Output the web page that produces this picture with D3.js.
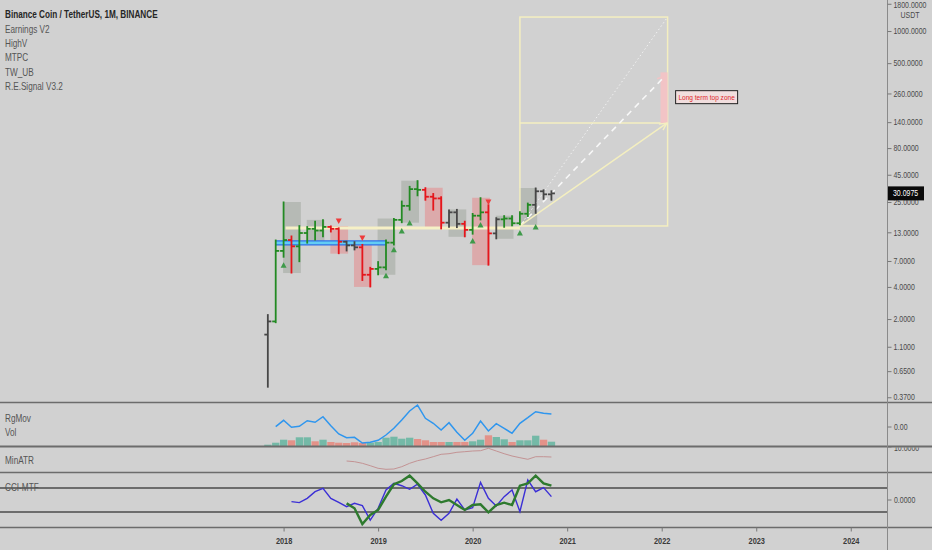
<!DOCTYPE html>
<html>
<head>
<meta charset="utf-8">
<script src="https://cdn.jsdelivr.net/npm/d3@7"></script>
<style>
  html, body { margin: 0; padding: 0; background: #d1d1d1; }
  svg { display: block; font-family: "Liberation Sans", Arial, sans-serif; }
</style>
</head>
<body>
<svg id="chart" width="932" height="550"></svg>
<script>
// monthly BNB/USDT bars, Nov 2017 .. Nov 2020
const months = [
  '2017-11', '2017-12',
  '2018-01', '2018-02', '2018-03', '2018-04', '2018-05', '2018-06',
  '2018-07', '2018-08', '2018-09', '2018-10', '2018-11', '2018-12',
  '2019-01', '2019-02', '2019-03', '2019-04', '2019-05', '2019-06',
  '2019-07', '2019-08', '2019-09', '2019-10', '2019-11', '2019-12',
  '2020-01', '2020-02', '2020-03', '2020-04', '2020-05', '2020-06',
  '2020-07', '2020-08', '2020-09', '2020-10', '2020-11'
];
const opens = [1.43, 1.9, 8.7, 11, 9.6, 12.8, 14, 13.5, 14.6, 14, 10.6, 9.8, 9.4, 5.2,
  5.9, 6.1, 10.4, 17, 23, 33, 32.5, 28, 27, 16, 20, 15.6,
  13.7, 18.6, 20, 12.7, 17.2, 17.5, 15.8, 19.4, 23.5, 31.5, 29.5];
const highs = [2.2, 11, 25, 12, 15, 14.7, 16.5, 17, 14.9, 14.3, 10.7, 10.6, 10, 6.1,
  6.9, 11, 17.5, 25.5, 35, 39.6, 34, 30, 28, 21, 21.3, 16.5,
  19.5, 27.4, 23.5, 17.8, 18.6, 18.6, 20.3, 24.4, 33.8, 32.5, 31.8];
const lows = [0.46, 1.85, 7.6, 5.4, 6.9, 10.3, 11, 11.8, 13.1, 8.2, 8.7, 8.9, 4.6, 4.0,
  5.2, 5.8, 9.9, 16, 21, 28.6, 26, 21, 14, 14.5, 14.4, 11.8,
  12.5, 17, 6.4, 11.3, 14.5, 15, 15.3, 18.3, 19.6, 26.5, 26];
const closes = [1.9, 8.7, 11, 9.6, 12.8, 14, 13.5, 14.6, 14, 10.6, 9.8, 9.4, 5.2, 5.9,
  6.1, 10.4, 17, 23, 33, 32.5, 28, 27, 16, 20, 15.6, 13.7,
  18.6, 20, 12.7, 17.2, 17.5, 15.8, 19.4, 23.5, 31.5, 29.5, 30.0975];
// indicator bar colouring: u = green, d = red, n = neutral
const barTone = 'nuuduuuuddnndduuuuuudddnnduudnuuuunnn'.split('');

// quarterly range boxes (first month index of each quarter) and their tone
const quarterStart = [2, 5, 8, 11, 14, 17, 20, 23, 26, 29, 32];
const quarterTone = ['u', 'u', 'd', 'd', 'u', 'u', 'd', 'u', 'd', 'u', 'u'];

// signal markers: month index and price level
const buyIdx = [2, 15, 16, 17, 18, 26, 27, 32, 34];
const buyLevel = [6.4, 5.1, 8.9, 13.4, 15.9, 10.8, 15.2, 12.8, 14.6];
const sellIdx = [9, 12, 28];
const sellLevel = [16.6, 11.5, 25];

// support levels
const creamLevel = 14.3;
const creamFrom = 2.25, creamTo = 32;
const blueBand = [10.8, 9.9];
const blueFrom = 1, blueTo = 15;

// long term projection box
const projFrom = 32, projTo = 50.75;
const projLow = 14.9, projMid = 137.4, projHigh = 1352;
const projDashTarget = 380;
const topZone = [137.4, 410];
const lastPrice = 30.0975;

// lower panes
const volumes = [1.3, 3.3, 6.3, 5.7, 8.7, 8.7, 4.7, 6.3, 4, 3.3, 3, 3.7, 3, 3.3, 4, 8.3, 9.3,
  7.3, 8.3, 7, 5.7, 4, 4, 4, 4, 4, 4.7, 6.3, 10.7, 9, 6.7, 4, 5.7, 5.7, 10.3, 6.3, 4.3];
const rgMov = [null, 19.3, 25.7, 18.7, 19.7, 25.3, 23.7, 29.3, 20.3, 12, 8.3, 8.7, 3, 3.7,
  5.7, 11, 17.7, 26, 35, 41, 27.7, 22.7, 16, 23.3, 13.7, 5.7, 12.7, 25, 15, 22.3, 17.7,
  12.7, 22.7, 28.3, 34.3, 32.7, 32];
const minAtrStart = 10;
const minAtr = [11, 10.3, 8.7, 6.3, 3.7, 2.7, 3, 5.3, 8.7, 11.3, 13, 15.3, 17.7, 18.3,
  19.7, 20.3, 21, 21.3, 23.7, 21, 18.3, 16, 14.3, 12.7, 15.3, 15.3, 15];
const cciFastStart = 3;
const cciFast = [-14, -22, 14, 69, 97, 14, -19, -56, -28, -47, -167, -69, 83, 139, 119, 89,
  131, 42, -111, -169, -111, 8, -83, -64, 147, 14, -50, 28, 83, -97, 167, 69, 103, 28];
const cciSlowStart = 10;
const cciSlow = [-28, -69, -200, -125, -83, 28, 131, 158, 203, 139, 69, 14, -19, 0, -42,
  -83, -42, -36, -103, -42, -22, -42, 119, 139, 203, 139, 119];

const priceTicks = [1800, 1000, 500, 260, 140, 80, 45, 25, 13, 7, 4, 2, 1.1, 0.65, 0.37];
const yearLabels = ['2018', '2019', '2020', '2021', '2022', '2023', '2024'];
const legendTitle = 'Binance Coin / TetherUS, 1M, BINANCE';
const legendItems = ['Earnings V2', 'HighV', 'MTPC', 'TW_UB', 'R.E.Signal V3.2'];

// ---------------------------------------------------------------
const W = 932, H = 550, AXIS_X = 887;
const MAIN = [0, 402], VOL = [402, 446], ATR = [446, 472], CCI = [472, 527];
const NARROW = 0.82;

const GREEN = '#238a23', RED = '#e5161c', NEUTRAL = '#474747';
const toneColor = t => t === 'u' ? GREEN : t === 'd' ? RED : NEUTRAL;

const svg = d3.select('#chart');

// squeeze text horizontally, the original uses a condensed UI font
function narrow(sel) {
  sel.each(function () {
    const t = d3.select(this);
    const tx = +t.attr('x') || 0, ty = +t.attr('y') || 0;
    t.attr('x', 0).attr('y', 0)
      .attr('transform', `translate(${tx},${ty}) scale(${NARROW},1)`);
  });
}

const x = d3.scaleLinear().domain([-34, 78.6]).range([0, AXIS_X]);
const y = d3.scaleLog().domain([1953, 0.334]).range(MAIN);
const yVol = d3.scaleLinear().domain([0, 44]).range([VOL[1], VOL[0]]);
const yAtr = d3.scaleLinear().domain([0, 26]).range([ATR[1], ATR[0]]);
const yCci = d3.scaleLinear().domain([-100, 100]).range([512, 488]);

const defs = svg.append('defs');
function clip(id, band) {
  defs.append('clipPath').attr('id', id)
    .append('rect').attr('x', 0).attr('y', band[0]).attr('width', AXIS_X).attr('height', band[1] - band[0]);
  return svg.append('g').attr('clip-path', `url(#${id})`);
}

// ---------------- main pane ----------------
const main = clip('clip-main', MAIN);

// quarter boxes
main.selectAll('rect.qbox')
  .data(quarterStart.map((s, k) => ({ s, tone: quarterTone[k] })))
  .join('rect')
  .attr('class', 'qbox')
  .attr('x', d => x(d.s) - 0.5)
  .attr('width', d => x(d.s + 2) - x(d.s) + 2)
  .attr('y', d => y(d3.max(highs.slice(d.s, d.s + 3))))
  .attr('height', d => y(d3.min(lows.slice(d.s, d.s + 3))) - y(d3.max(highs.slice(d.s, d.s + 3))))
  .attr('fill', d => d.tone === 'u' ? '#b6bab5' : '#dcaaab');

// projection box
const projG = main.append('g');
projG.append('rect')
  .attr('x', x(projFrom)).attr('y', y(projHigh))
  .attr('width', x(projTo) - x(projFrom)).attr('height', y(projLow) - y(projHigh))
  .attr('fill', 'none').attr('stroke', '#f4efc0').attr('stroke-width', 1.5);
projG.append('line')
  .attr('x1', x(projFrom)).attr('x2', x(projTo))
  .attr('y1', y(projMid)).attr('y2', y(projMid))
  .attr('stroke', '#f4efc0').attr('stroke-width', 1.5);
projG.append('rect')
  .attr('x', x(projTo - 0.9)).attr('width', x(projTo) - x(projTo - 0.9))
  .attr('y', y(topZone[1])).attr('height', y(topZone[0]) - y(topZone[1]))
  .attr('fill', '#f2c4c6');

defs.append('marker').attr('id', 'arrow-cream')
  .attr('viewBox', '0 0 10 10').attr('refX', 9).attr('refY', 5)
  .attr('markerWidth', 6).attr('markerHeight', 6).attr('orient', 'auto')
  .append('path').attr('d', 'M1,1 L9,5 L1,9').attr('fill', 'none').attr('stroke', '#f4efc0').attr('stroke-width', 1.5);
defs.append('marker').attr('id', 'arrow-pink')
  .attr('viewBox', '0 0 10 10').attr('refX', 9).attr('refY', 5)
  .attr('markerWidth', 6).attr('markerHeight', 6).attr('orient', 'auto')
  .append('path').attr('d', 'M1,1 L9,5 L1,9').attr('fill', 'none').attr('stroke', '#f2c4c6').attr('stroke-width', 1.5);

projG.append('line')
  .attr('x1', x(projFrom)).attr('y1', y(projLow))
  .attr('x2', x(projTo)).attr('y2', y(projHigh))
  .attr('stroke', '#f2f2f2').attr('stroke-width', 1).attr('stroke-dasharray', '1.5,2.5');
projG.append('line')
  .attr('x1', x(projFrom)).attr('y1', y(projLow))
  .attr('x2', x(projTo - 0.3)).attr('y2', y(projDashTarget))
  .attr('stroke', '#f8f8f8').attr('stroke-width', 1.6).attr('stroke-dasharray', '6,5')
  .attr('marker-end', 'url(#arrow-pink)');
projG.append('line')
  .attr('x1', x(projFrom)).attr('y1', y(projLow))
  .attr('x2', x(projTo - 0.1)).attr('y2', y(projMid))
  .attr('stroke', '#f4efc0').attr('stroke-width', 1.5)
  .attr('marker-end', 'url(#arrow-cream)');

// support levels
main.append('line')
  .attr('x1', x(creamFrom)).attr('x2', x(creamTo))
  .attr('y1', y(creamLevel)).attr('y2', y(creamLevel))
  .attr('stroke', '#f6f0c6').attr('stroke-width', 3);

main.append('rect')
  .attr('x', x(blueFrom)).attr('width', x(blueTo) - x(blueFrom))
  .attr('y', y(blueBand[0])).attr('height', y(blueBand[1]) - y(blueBand[0]))
  .attr('fill', '#62cdf4');
main.selectAll('line.blue')
  .data(blueBand)
  .join('line')
  .attr('class', 'blue')
  .attr('x1', x(blueFrom)).attr('x2', x(blueTo))
  .attr('y1', d => y(d)).attr('y2', d => y(d))
  .attr('stroke', '#2f6fe6').attr('stroke-width', 1.3);

// OHLC bars
const bars = main.selectAll('g.bar')
  .data(months.map((m, i) => ({ i, o: opens[i], h: highs[i], l: lows[i], c: closes[i], tone: barTone[i] })))
  .join('g')
  .attr('class', 'bar')
  .attr('stroke', d => toneColor(d.tone))
  .attr('stroke-width', 1.8);
bars.append('line')
  .attr('x1', d => x(d.i)).attr('x2', d => x(d.i))
  .attr('y1', d => y(d.h) - 0.5).attr('y2', d => y(d.l) + 0.5);
bars.append('line')
  .attr('x1', d => x(d.i) - 3.5).attr('x2', d => x(d.i))
  .attr('y1', d => y(d.o)).attr('y2', d => y(d.o));
bars.append('line')
  .attr('x1', d => x(d.i)).attr('x2', d => x(d.i) + 3.5)
  .attr('y1', d => y(d.c)).attr('y2', d => y(d.c));

// signals
main.selectAll('path.buy')
  .data(buyIdx.map((i, k) => ({ i, p: buyLevel[k] })))
  .join('path')
  .attr('class', 'buy')
  .attr('d', d => `M${x(d.i) - 3},${y(d.p) + 2.5} L${x(d.i) + 3},${y(d.p) + 2.5} L${x(d.i)},${y(d.p) - 3} Z`)
  .attr('fill', '#3f9a4a');
main.selectAll('path.sell')
  .data(sellIdx.map((i, k) => ({ i, p: sellLevel[k] })))
  .join('path')
  .attr('class', 'sell')
  .attr('d', d => `M${x(d.i) - 3},${y(d.p) - 2.5} L${x(d.i) + 3},${y(d.p) - 2.5} L${x(d.i)},${y(d.p) + 3} Z`)
  .attr('fill', '#ee3b3b');

// top zone label
const zoneLabel = svg.append('g').attr('transform', `translate(${x(projTo) + 8},${y(240)})`);
zoneLabel.append('rect')
  .attr('x', 0).attr('y', -6.5).attr('width', 62).attr('height', 13)
  .attr('fill', '#f1dede').attr('stroke', '#222').attr('stroke-width', 1);
zoneLabel.append('text')
  .attr('x', 31).attr('y', 3)
  .attr('text-anchor', 'middle')
  .attr('font-size', 8).attr('fill', '#e0262a')
  .text('Long term top zone')
  .call(narrow);

// ---------------- volume + RgMov ----------------
const volG = clip('clip-vol', VOL);
volG.selectAll('rect.vol')
  .data(volumes.map((v, i) => ({ i, v, up: closes[i] >= opens[i] })))
  .join('rect')
  .attr('class', 'vol')
  .attr('x', d => x(d.i) - 3.6)
  .attr('width', 7.3)
  .attr('y', d => yVol(d.v))
  .attr('height', d => yVol(0) - yVol(d.v))
  .attr('fill', d => d.up ? '#74b9a7' : '#e39289');

volG.append('path')
  .datum(rgMov.map((v, i) => ({ i, v })).filter(d => d.v !== null))
  .attr('d', d3.line().x(d => x(d.i)).y(d => yVol(d.v)))
  .attr('fill', 'none').attr('stroke', '#2f96ee').attr('stroke-width', 1.5);

// ---------------- MinATR ----------------
const atrG = clip('clip-atr', ATR);
atrG.append('path')
  .datum(minAtr.map((v, k) => ({ i: k + minAtrStart, v })))
  .attr('d', d3.line().x(d => x(d.i)).y(d => yAtr(d.v)))
  .attr('fill', 'none').attr('stroke', '#c39394').attr('stroke-width', 1);

// ---------------- CCI-MTF ----------------
const cciG = clip('clip-cci', CCI);
cciG.selectAll('line.lvl')
  .data([100, -100])
  .join('line')
  .attr('class', 'lvl')
  .attr('x1', 0).attr('x2', AXIS_X)
  .attr('y1', d => yCci(d)).attr('y2', d => yCci(d))
  .attr('stroke', '#4a4a4a').attr('stroke-width', 1.4);
cciG.append('path')
  .datum(cciFast.map((v, k) => ({ i: k + cciFastStart, v })))
  .attr('d', d3.line().x(d => x(d.i)).y(d => yCci(d.v)))
  .attr('fill', 'none').attr('stroke', '#3b2fd6').attr('stroke-width', 1.4);
cciG.append('path')
  .datum(cciSlow.map((v, k) => ({ i: k + cciSlowStart, v })))
  .attr('d', d3.line().x(d => x(d.i)).y(d => yCci(d.v)))
  .attr('fill', 'none').attr('stroke', '#2e7a2e').attr('stroke-width', 2.4);

// ---------------- separators and axes ----------------
svg.selectAll('line.sep')
  .data([VOL[0], ATR[0], CCI[0], CCI[1]])
  .join('line')
  .attr('class', 'sep')
  .attr('x1', 0).attr('x2', W)
  .attr('y1', d => d + 0.5).attr('y2', d => d + 0.5)
  .attr('stroke', '#6c6c6c').attr('stroke-width', d => d === ATR[0] ? 2 : 1.3);

svg.append('line')
  .attr('x1', AXIS_X + 0.5).attr('x2', AXIS_X + 0.5)
  .attr('y1', 0).attr('y2', H)
  .attr('stroke', '#8a8a8a').attr('stroke-width', 1);

const priceAxis = d3.axisRight(y)
  .tickValues(priceTicks)
  .tickFormat(d3.format('.4f'))
  .tickSize(4).tickPadding(2);
const pa = svg.append('g').attr('transform', `translate(${AXIS_X + 0.5},0)`).call(priceAxis);
pa.select('.domain').remove();
pa.selectAll('line').attr('stroke', '#777');
pa.selectAll('text')
  .attr('font-size', 8.5).attr('fill', '#4a4a4a').attr('font-family', null)
  .attr('y', d => d === priceTicks[0] ? 1.2 : 0)
  .attr('dy', '0.32em')
  .call(narrow);

svg.append('text')
  .attr('x', 910).attr('y', 17.5)
  .attr('text-anchor', 'middle')
  .attr('font-size', 8.5).attr('fill', '#4a4a4a')
  .text('USDT')
  .call(narrow);

// last price marker
const lp = svg.append('g').attr('transform', `translate(${AXIS_X + 1},${y(lastPrice)})`);
lp.append('rect').attr('x', 0).attr('y', -7).attr('width', 36).attr('height', 14).attr('fill', '#0a0a0a');
lp.append('text').attr('x', 5).attr('y', 3).attr('font-size', 8.5).attr('fill', '#fff')
  .text(d3.format('.4f')(lastPrice))
  .call(narrow);

// lower pane scale labels
function paneTick(g, yy, label) {
  g.append('line').attr('x1', AXIS_X + 0.5).attr('x2', AXIS_X + 4.5)
    .attr('y1', yy).attr('y2', yy).attr('stroke', '#777');
  g.append('text').attr('x', AXIS_X + 7).attr('y', yy + 3)
    .attr('font-size', 8.5).attr('fill', '#4a4a4a').text(label)
    .call(narrow);
}
paneTick(svg, yVol(19), '0.00');
defs.append('clipPath').attr('id', 'clip-atr-axis')
  .append('rect').attr('x', AXIS_X).attr('y', ATR[0] + 1.5).attr('width', W - AXIS_X).attr('height', ATR[1] - ATR[0]);
paneTick(svg.append('g').attr('clip-path', 'url(#clip-atr-axis)'), yAtr(24.5), '10.0000');
paneTick(svg, yCci(0), '0.0000');

// time axis
const yearIdx = yearLabels.map(yr => (+yr - 2017) * 12 - 10);
const ta = svg.append('g').attr('transform', `translate(0,${CCI[1] + 0.5})`)
  .call(d3.axisBottom(x).tickValues(yearIdx).tickFormat((d, k) => yearLabels[k]).tickSize(4).tickPadding(6));
ta.select('.domain').remove();
ta.selectAll('line').attr('stroke', '#777');
ta.selectAll('text')
  .attr('font-size', 9).attr('font-weight', 'bold').attr('fill', '#3a3a3a').attr('font-family', null)
  .attr('y', 10).attr('dy', '0.71em')
  .call(narrow);

// legends
svg.append('text')
  .attr('x', 5).attr('y', 18)
  .attr('font-size', 10).attr('font-weight', 'bold').attr('fill', '#262626')
  .text(legendTitle)
  .call(narrow);
svg.selectAll('text.legend')
  .data(legendItems)
  .join('text')
  .attr('class', 'legend')
  .attr('x', 5).attr('y', (d, k) => 32.5 + k * 14.4)
  .attr('font-size', 10).attr('fill', '#555')
  .text(d => d)
  .call(narrow);

svg.selectAll('text.pane')
  .data([['RgMov', 421.5], ['Vol', 435.5], ['MinATR', 463.5], ['CCI-MTF', 490.5]])
  .join('text')
  .attr('class', 'pane')
  .attr('x', 5).attr('y', d => d[1])
  .attr('font-size', 10).attr('fill', '#555')
  .text(d => d[0])
  .call(narrow);
</script>
</body>
</html>
